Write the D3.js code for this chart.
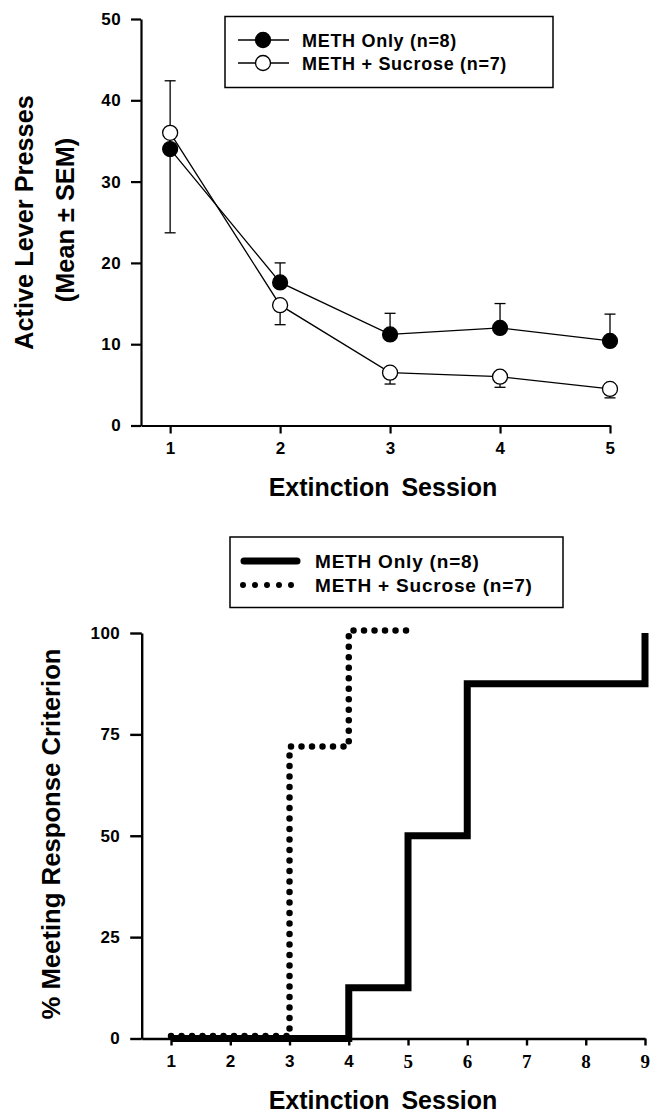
<!DOCTYPE html>
<html>
<head>
<meta charset="utf-8">
<script src="https://cdn.jsdelivr.net/npm/d3@7"></script>
<style>
  html, body { margin: 0; padding: 0; background: #fff; }
  svg { display: block; }
  text { font-family: "Liberation Sans", Arial, sans-serif; font-weight: bold; fill: #000; }
</style>
</head>
<body>
<script>
// ---------- DATA ----------
const seriesNames = ["METH Only (n=8)", "METH + Sucrose (n=7)"];

// Top panel: active lever presses (mean ± SEM)
const sessionsTop = [1, 2, 3, 4, 5];
const methOnlyMean = [34.0, 17.6, 11.2, 12.0, 10.4];
const methOnlySEM = [8.4, 2.4, 2.6, 3.0, 3.3];
const methSucroseMean = [36.0, 14.8, 6.5, 6.0, 4.5];
const methSucroseSEM = [12.3, 2.4, 1.4, 1.3, 1.1];
const topYTicks = [0, 10, 20, 30, 40, 50];
const topXTicks = [1, 2, 3, 4, 5];

// Bottom panel: % meeting response criterion
const methOnlySessions = [1, 2, 3, 4, 5, 6, 7, 8, 9];
const methOnlyPct = [0, 0, 0, 12.5, 50, 87.5, 87.5, 87.5, 100];
const methSucroseSessions = [1, 2, 3, 4, 5];
const methSucrosePct = [0, 0, 71.4, 100, 100];
const bottomYTicks = [0, 25, 50, 75, 100];
const bottomXTicks = [1, 2, 3, 4, 5, 6, 7, 8, 9];

const topYTitle = ["Active Lever Presses", "(Mean \u00B1 SEM)"];
const bottomYTitle = "% Meeting Response Criterion";
const xTitle = "Extinction Session";

// ---------- SVG ----------
const W = 657, H = 1113;
const svg = d3.select("body").append("svg").attr("width", W).attr("height", H);
const SANS = '"Liberation Sans", Arial, sans-serif';
const SERIF = '"Liberation Serif", "Times New Roman", serif';

function styleAxis(g, sw) {
  g.attr("font-family", SANS).attr("font-size", 17);
  g.select(".domain").attr("stroke", "#000").attr("stroke-width", sw);
  g.selectAll(".tick line").attr("stroke", "#000").attr("stroke-width", sw);
  g.selectAll(".tick text").style("font-size", "17px").style("font-weight", "bold")
    .style("letter-spacing", "0.4px").style("font-family", SANS).attr("fill", "#000");
}

// ================= TOP PANEL =================
const xTop = d3.scaleLinear().domain([0.735, 5]).range([141, 610]);
const yTop = d3.scaleLinear().domain([0, 50]).range([425.5, 19]);

const gTop = svg.append("g");

const yAxisTop = d3.axisLeft(yTop).tickValues(topYTicks).tickFormat(d3.format("d"))
  .tickSize(10).tickSizeOuter(0).tickPadding(10);
const gyTop = gTop.append("g").attr("transform", `translate(${xTop.range()[0]},0)`).call(yAxisTop);
const xAxisTop = d3.axisBottom(xTop).tickValues(topXTicks).tickFormat(d3.format("d"))
  .tickSize(8).tickSizeOuter(0).tickPadding(8);
const gxTop = gTop.append("g").attr("transform", `translate(0,${yTop(0)})`).call(xAxisTop);
styleAxis(gyTop, 2.2);
styleAxis(gxTop, 2.2);

// lines
const lineTop = d3.line().x((d, i) => xTop(sessionsTop[i])).y(d => yTop(d));
gTop.append("path").attr("d", lineTop(methOnlyMean)).attr("fill", "none").attr("stroke", "#000").attr("stroke-width", 1.3);
gTop.append("path").attr("d", lineTop(methSucroseMean)).attr("fill", "none").attr("stroke", "#000").attr("stroke-width", 1.3);

// error bars: METH only upward, METH + Sucrose downward
const capW = 5.5;
function errBars(means, sems, dir) {
  means.forEach((m, i) => {
    const x = xTop(sessionsTop[i]);
    const yEnd = yTop(m + dir * sems[i]);
    gTop.append("line").attr("x1", x).attr("x2", x).attr("y1", yTop(m)).attr("y2", yEnd)
      .attr("stroke", "#000").attr("stroke-width", 1.3);
    gTop.append("line").attr("x1", x - capW).attr("x2", x + capW).attr("y1", yEnd).attr("y2", yEnd)
      .attr("stroke", "#000").attr("stroke-width", 1.3);
  });
}
errBars(methOnlyMean, methOnlySEM, 1);
errBars(methSucroseMean, methSucroseSEM, -1);

// markers
gTop.selectAll("circle.filled").data(methOnlyMean).enter().append("circle")
  .attr("class", "filled")
  .attr("cx", (d, i) => xTop(sessionsTop[i])).attr("cy", d => yTop(d)).attr("r", 7.5)
  .attr("fill", "#000").attr("stroke", "#000").attr("stroke-width", 1.2);
gTop.selectAll("circle.open").data(methSucroseMean).enter().append("circle")
  .attr("class", "open")
  .attr("cx", (d, i) => xTop(sessionsTop[i])).attr("cy", d => yTop(d)).attr("r", 7.5)
  .attr("fill", "#fff").attr("stroke", "#000").attr("stroke-width", 1.3);

// legend (top)
const legTop = svg.append("g");
legTop.append("rect").attr("x", 225).attr("y", 16.5).attr("width", 328).attr("height", 71)
  .attr("fill", "#fff").attr("stroke", "#000").attr("stroke-width", 1.5);
[0, 1].forEach(k => {
  const cy = 40 + k * 23;
  legTop.append("line").attr("x1", 238).attr("x2", 289).attr("y1", cy).attr("y2", cy)
    .attr("stroke", "#000").attr("stroke-width", 1.3);
  legTop.append("circle").attr("cx", 263).attr("cy", cy).attr("r", 7.5)
    .attr("fill", k === 0 ? "#000" : "#fff").attr("stroke", "#000").attr("stroke-width", 1.3);
  legTop.append("text").attr("x", 302).attr("y", cy + 6.5)
    .style("font-size", "18px").style("letter-spacing", "0.7px").text(seriesNames[k]);
});

// titles (top)
svg.append("text").attr("transform", "translate(33,222.5) rotate(-90)").attr("text-anchor", "middle")
  .style("font-size", "25.3px").text(topYTitle[0]);
svg.append("text").attr("transform", "translate(73.5,220) rotate(-90)").attr("text-anchor", "middle")
  .style("font-size", "25.3px").text(topYTitle[1]);
svg.append("text").attr("x", 383).attr("y", 496).attr("text-anchor", "middle")
  .style("font-size", "25px").style("word-spacing", "5px").text(xTitle);

// ================= BOTTOM PANEL =================
const xBot = d3.scaleLinear().domain([0.505, 9]).range([141.7, 645]);
const yBot = d3.scaleLinear().domain([0, 100]).range([1038.5, 633]);

const gBot = svg.append("g");
const yAxisBot = d3.axisLeft(yBot).tickValues(bottomYTicks).tickFormat(d3.format("d"))
  .tickSize(11.5).tickSizeOuter(0).tickPadding(10);
const gyBot = gBot.append("g").attr("transform", `translate(${xBot.range()[0]},0)`).call(yAxisBot);
const xAxisBot = d3.axisBottom(xBot).tickValues(bottomXTicks).tickFormat(d3.format("d"))
  .tickSize(7).tickSizeOuter(0).tickPadding(9);
const gxBot = gBot.append("g").attr("transform", `translate(0,${yBot(0)})`).call(xAxisBot);
styleAxis(gyBot, 2.4);
styleAxis(gxBot, 2.4);
gxBot.selectAll(".tick text").filter(d => d >= 5)
  .style("font-family", SERIF).style("font-size", "19px");

// step lines
const stepSolid = d3.line().curve(d3.curveStepAfter)
  .x((d, i) => xBot(methOnlySessions[i])).y(d => yBot(d));
const stepDotted = d3.line().curve(d3.curveStepAfter)
  .x((d, i) => xBot(methSucroseSessions[i])).y(d => yBot(d));

gBot.append("path").attr("d", stepSolid(methOnlyPct)).attr("fill", "none")
  .attr("stroke", "#000").attr("stroke-width", 7).attr("stroke-linejoin", "miter");
// dotted line drawn slightly raised so its dots stand out above the solid baseline
gBot.append("path").attr("d", stepDotted(methSucrosePct)).attr("fill", "none")
  .attr("transform", "translate(0,-2.5)")
  .attr("stroke", "#000").attr("stroke-width", 6.5).attr("stroke-linecap", "round")
  .attr("stroke-dasharray", "0,10.5");

// legend (bottom)
const legBot = svg.append("g");
legBot.append("rect").attr("x", 230).attr("y", 537).attr("width", 333).attr("height", 70.5)
  .attr("fill", "#fff").attr("stroke", "#000").attr("stroke-width", 1.5);
legBot.append("line").attr("x1", 244).attr("x2", 297).attr("y1", 561).attr("y2", 561)
  .attr("stroke", "#000").attr("stroke-width", 7).attr("stroke-linecap", "round");
legBot.append("line").attr("x1", 243).attr("x2", 292).attr("y1", 585).attr("y2", 585)
  .attr("stroke", "#000").attr("stroke-width", 6).attr("stroke-linecap", "round")
  .attr("stroke-dasharray", "0,12");
[0, 1].forEach(k => {
  legBot.append("text").attr("x", 315).attr("y", 568 + k * 24)
    .style("font-size", "19px").style("letter-spacing", "0.8px").text(seriesNames[k]);
});

// titles (bottom)
svg.append("text").attr("transform", "translate(59.5,834) rotate(-90)").attr("text-anchor", "middle")
  .style("font-size", "25.7px").text(bottomYTitle);
svg.append("text").attr("x", 383).attr("y", 1109).attr("text-anchor", "middle")
  .style("font-size", "25px").style("word-spacing", "5px").text(xTitle);
</script>
</body>
</html>
